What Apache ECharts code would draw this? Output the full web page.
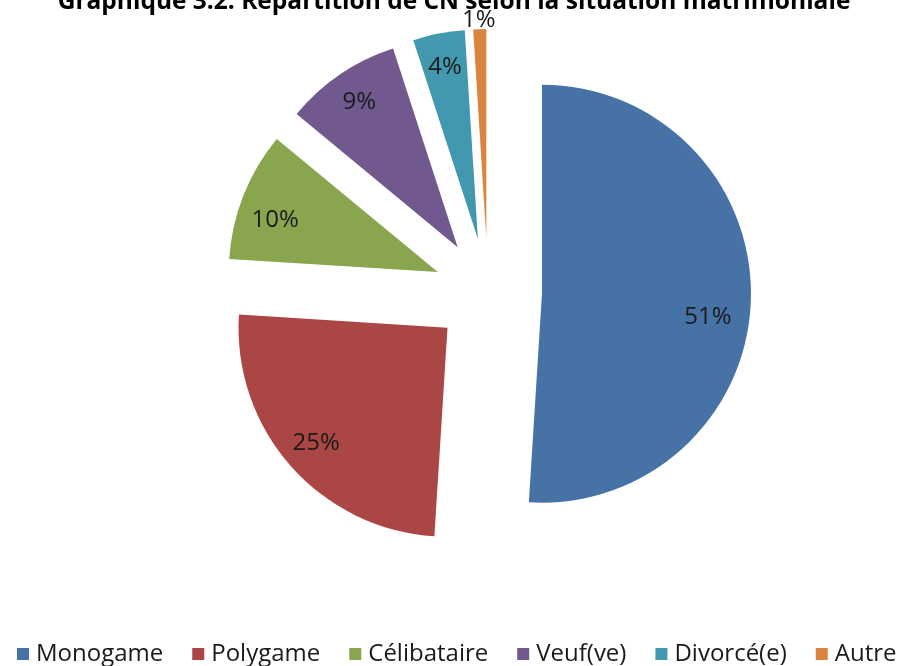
<!DOCTYPE html>
<html>
<head>
<meta charset="utf-8">
<script src="https://cdn.jsdelivr.net/npm/echarts@6/dist/echarts.min.js"></script>
<style>
   html, body { margin: 0; padding: 0; background: #fff; }
   #chart { width: 908px; height: 666px; }
</style>
</head>
<body>
<div id="chart"></div>
<script>
var categories = ['Monogame', 'Polygame', 'Célibataire', 'Veuf(ve)', 'Divorcé(e)', 'Autre'];
var shares = [51, 25, 10, 9, 4, 1]; // pourcentages
var colors = ['#4672A6', '#AA4643', '#89A54E', '#71588F', '#4198AF', '#DB843D'];
var chartTitle = 'Graphique 3.2: Répartition de CN selon la situation matrimoniale';

var font = 'Open Sans';

// build the pie data (all slices pulled out)
var pieData = [];
var labelData = [];
for (var i = 0; i < categories.length; i++) {
   pieData.push({ name: categories[i], value: shares[i], selected: true });
   labelData.push({ name: categories[i], value: shares[i], selected: true });
}

var chart = echarts.init(document.getElementById('chart'));
var option = {
   animation: false,
   color: colors,
   title: {
      text: chartTitle,
      left: 'center',
      top: -15,
      textStyle: { fontFamily: font, fontSize: 24.5, fontWeight: 'bold', color: '#000' }
   },
   legend: {
      data: categories,
      left: 12,
      top: 637,
      width: 896,
      itemWidth: 12,
      itemHeight: 12,
      itemGap: 29,
      icon: 'rect',
      textStyle: { fontFamily: font, fontSize: 24, color: '#1a1a1a', padding: [0, 0, 0, 2] }
   },
   series: [
      {
         name: 'situation',
         type: 'pie',
         center: [488, 292],
         radius: 209,
         startAngle: 90,
         clockwise: true,
         selectedMode: 'multiple',
         selectedOffset: 54,
         label: { show: false },
         labelLine: { show: false },
         emphasis: { disabled: true },
         itemStyle: { borderWidth: 0 },
         data: pieData
      },
      {
         // transparent copy, only used to place the percentages
         name: 'etiquettes',
         type: 'pie',
         center: [488, 292],
         radius: [136, 208],
         startAngle: 90,
         clockwise: true,
         selectedMode: 'multiple',
         selectedOffset: 54,
         silent: true,
         itemStyle: { color: 'rgba(0,0,0,0)' },
         emphasis: { disabled: true },
         label: {
            show: true,
            position: 'inside',
            formatter: '{c}%',
            fontFamily: font,
            fontSize: 24,
            color: '#1a1a1a'
         },
         labelLine: { show: false },
         labelLayout: function (params) {
            if (params.dataIndex == 0) return { dx: -9, dy: 18 };   // 51% a bit lower like excel
            if (params.dataIndex == 2) return { dy: 12 };
            if (params.dataIndex == 5) return { dx: -2, dy: -43 };  // 1% sits above the thin slice
            return {};
         },
         data: labelData
      }
   ]
};
chart.setOption(option);
</script>
</body>
</html>
